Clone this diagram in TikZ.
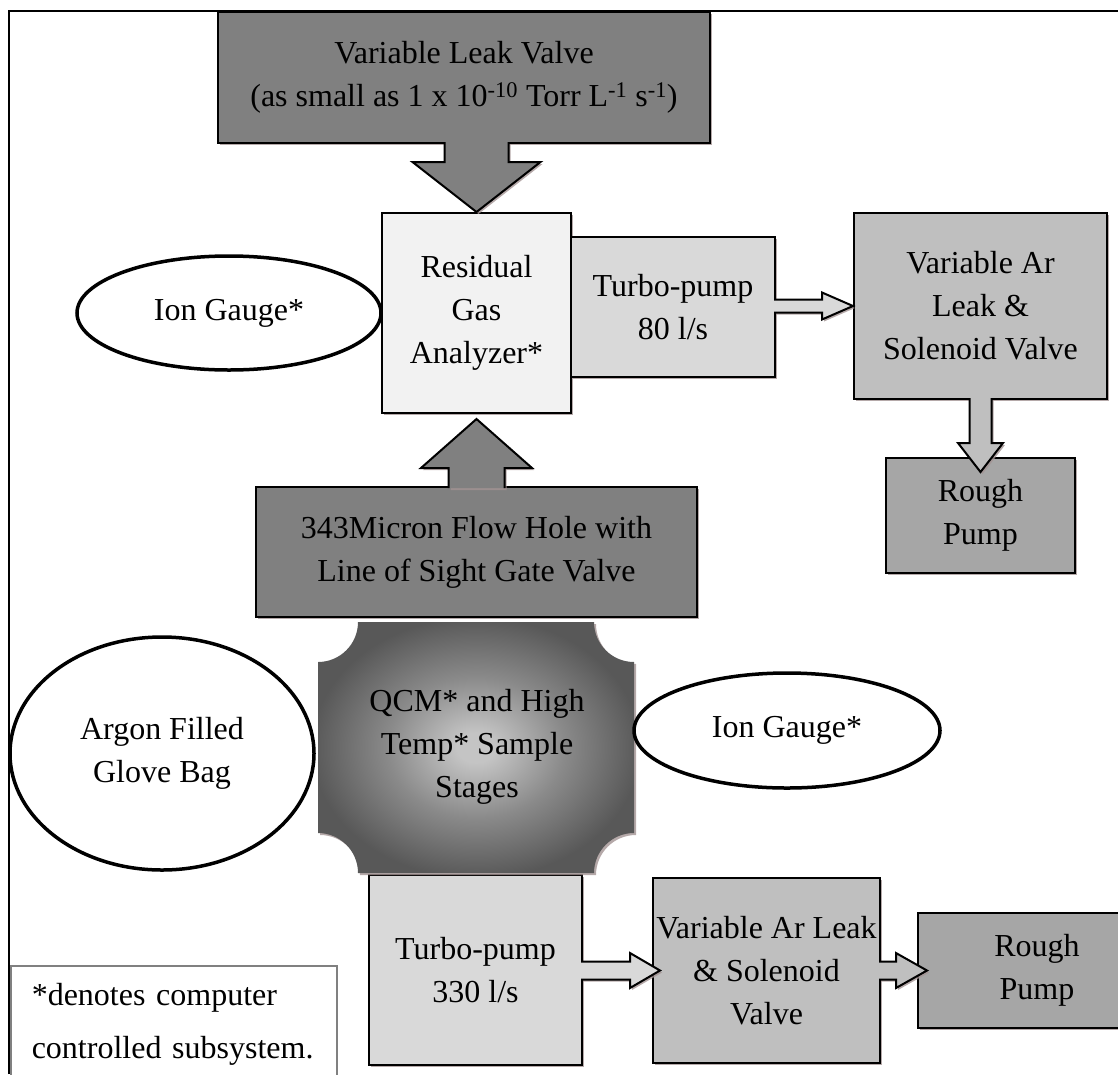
\documentclass[tikz,border=0pt]{standalone}
\usepackage{fontspec}
\setmainfont{Liberation Serif}
\usepackage{tikz}
\usetikzlibrary{shapes.geometric}
\usetikzlibrary{positioning}
\usetikzlibrary{calc}
\usetikzlibrary{shadows}
\usepackage{xcolor}

\definecolor{darkfill}{HTML}{808080}
\definecolor{midfill}{HTML}{A6A6A6}
\definecolor{lightfill}{HTML}{BFBFBF}
\definecolor{palefill}{HTML}{D9D9D9}
\definecolor{whitefill}{HTML}{F2F2F2}
\definecolor{shadowtone}{HTML}{A39393}
\definecolor{qcmlight}{HTML}{C4C4C4}
\definecolor{qcmmid}{HTML}{8A8A8A}
\definecolor{qcmdark}{HTML}{585858}

\pgfdeclareradialshading{qcmglow}{\pgfpoint{0bp}{0bp}}{color(0bp)=(qcmlight); color(3bp)=(qcmlight); color(14bp)=(qcmmid); color(26bp)=(qcmdark); color(50bp)=(qcmdark)}

\tikzset{
  softshadow/.style={drop shadow={shadow xshift=2pt, shadow yshift=-2pt, fill=shadowtone, opacity=.8}},
  box/.style={draw, line width=2pt, inner sep=0pt, align=center, softshadow},
  gauge/.style={draw, ellipse, line width=3.5pt, inner sep=0pt, align=center, fill=white},
  pipe/.style={draw, line width=2pt, line join=miter, softshadow},
  legend/.style={draw=black!50, line width=1.5pt, fill=white, align=left, inner xsep=21pt, inner ysep=18pt,
    text width=284pt, font=\fontsize{32}{53}\selectfont},
  frame/.style={line width=2pt},
}

\begin{document}
\begin{tikzpicture}[x=1pt, y=-1pt, font=\fontsize{32}{43}\selectfont]
            \useasboundingbox (0,0) rectangle (1118,1074);
            \draw[frame] (9,1074) -- (9,11) -- (1118,11);

            % chamber and pumps
            \node[box, fill=darkfill, minimum width=492pt, minimum height=131pt] (leak) at (464,77.5) {Variable Leak Valve\\(as small as 1 x 10\textsuperscript{-10} Torr L\textsuperscript{-1} s\textsuperscript{-1})};
            \node[box, fill=whitefill, minimum width=189pt, minimum height=200pt] (rga) at (476.5,313) {Residual\\Gas\\Analyzer*};
            \node[box, fill=palefill, minimum width=204pt, minimum height=140pt] (turbo1) at (673,307) {Turbo-pump\\80 l/s};
            \node[box, fill=lightfill, minimum width=253pt, minimum height=186pt] (varar1) at (980.5,306) {Variable Ar\\Leak \&\\Solenoid Valve};
            \node[box, fill=midfill, minimum width=189pt, minimum height=115pt] (rough1) at (980.5,515.5) {Rough\\Pump};
            \node[box, fill=darkfill, minimum width=441pt, minimum height=130pt] (micron) at (476.5,552) {343Micron Flow Hole with\\Line of Sight Gate Valve};
            \node[box, fill=palefill, minimum width=213pt, minimum height=190pt] (turbo2) at (475.5,970) {Turbo-pump\\330 l/s};
            \node[box, fill=lightfill, minimum width=227pt, minimum height=185pt] (varar2) at (766.5,970.5) {Variable Ar Leak\\\& Solenoid\\Valve};
            \node[box, fill=midfill, minimum width=238pt, minimum height=115pt] (rough2) at (1037,970.5) {Rough\\Pump};

            % sample stage cross
            \path[shading=qcmglow, softshadow] (358,622) -- (594,622) arc[start angle=180, end angle=270, radius=40pt]
              -- (634,833) arc[start angle=90, end angle=180, radius=40pt]
              -- (358,873) arc[start angle=0, end angle=90, radius=40pt]
              -- (318,662) arc[start angle=270, end angle=360, radius=40pt] -- cycle;
            \node[align=center] (qcm) at (477,747) {QCM* and High\\Temp* Sample\\Stages};

            \node[gauge, minimum width=304pt, minimum height=114pt] (gauge1) at (229,313) {Ion Gauge*};
            \node[gauge, minimum width=304pt, minimum height=233pt] (glovebag) at (162,753.5) {Argon Filled\\Glove Bag};
            \node[gauge, minimum width=306pt, minimum height=115pt] (gauge2) at (787,730.5) {Ion Gauge*};

            % block arrows
            \draw[pipe, fill=darkfill] ($(rga.north |- leak.south)+(-32,-2)$) -- ($(rga.north)+(-32,-50)$) -- ($(rga.north)+(-64,-50)$) -- (rga.north)
              -- ($(rga.north)+(64,-50)$) -- ($(rga.north)+(32,-50)$) -- ($(rga.north |- leak.south)+(32,-2)$);
            \draw[pipe, fill=darkfill] ($(rga.south |- micron.north)+(-28,2)$) -- ($(rga.south)+(-28,54)$) -- ($(rga.south)+(-55.5,54)$) -- ($(rga.south)+(0,5)$)
              -- ($(rga.south)+(55.5,54)$) -- ($(rga.south)+(28,54)$) -- ($(rga.south |- micron.north)+(28,2)$);
            \draw[pipe, fill=palefill] ($(turbo1.east |- varar1.west)+(-2,-6.5)$) -- ($(varar1.west)+(-31,-6.5)$) -- ($(varar1.west)+(-31,-13.5)$) -- (varar1.west)
              -- ($(varar1.west)+(-31,13.5)$) -- ($(varar1.west)+(-31,6.5)$) -- ($(turbo1.east |- varar1.west)+(-2,6.5)$);
            \draw[pipe, fill=lightfill] ($(varar1.south)+(-11,-2)$) -- ($(rough1.north)+(-11,-14)$) -- ($(rough1.north)+(-22.5,-14)$) -- ($(rough1.north)+(0,15)$)
              -- ($(rough1.north)+(22.5,-14)$) -- ($(rough1.north)+(11,-14)$) -- ($(varar1.south)+(11,-2)$);
            \draw[pipe, fill=palefill] ($(turbo2.east |- varar2.west)+(-2,-9)$) -- ($(varar2.west)+(-22,-9)$) -- ($(varar2.west)+(-22,-17.5)$) -- ($(varar2.west)+(8,0)$)
              -- ($(varar2.west)+(-22,17.5)$) -- ($(varar2.west)+(-22,9)$) -- ($(turbo2.east |- varar2.west)+(-2,9)$);
            \draw[pipe, fill=lightfill] ($(varar2.east |- rough2.west)+(-2,-9)$) -- ($(rough2.west)+(-21,-9)$) -- ($(rough2.west)+(-21,-17.5)$) -- ($(rough2.west)+(10,0)$)
              -- ($(rough2.west)+(-21,17.5)$) -- ($(rough2.west)+(-21,9)$) -- ($(varar2.east |- rough2.west)+(-2,9)$);

            \node[legend, anchor=north west] (note) at (10,965) {*denotes computer\\controlled subsystem.};
        \end{tikzpicture}
\end{document}
